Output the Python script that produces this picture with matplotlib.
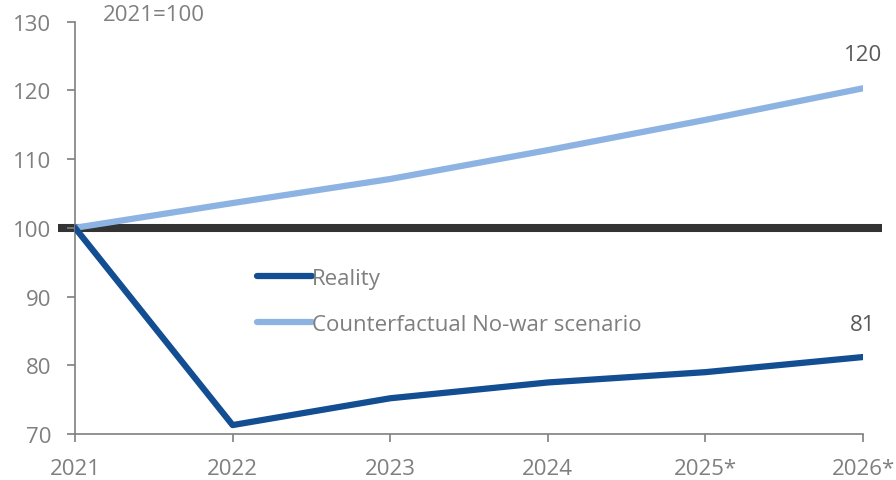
import numpy as np
import matplotlib.pyplot as plt

plt.rcParams['font.family'] = ['Open Sans', 'DejaVu Sans']

years = ['2021', '2022', '2023', '2024', '2025*', '2026*']
reality = [100, 71.3, 75.2, 77.5, 79.0, 81.2]
no_war = [100, 103.6, 107.1, 111.3, 115.7, 120.3]

x = np.arange(len(years))
grey = '#7f7f7f'

fig = plt.figure(figsize=(8.96, 4.81), dpi=100)
ax = fig.add_axes([0.0837, 0.0956, 0.8795, 0.8574])

# baseline at 100, sticks out past the axes a little
ax.plot([-0.11, 5.12], [100, 100], color='#333333', lw=5.8, clip_on=False, zorder=1,
        solid_capstyle='butt')
ax.plot(x, no_war, color='#8db3e2', lw=4.5, label='Counterfactual No-war scenario', zorder=2,
        solid_capstyle='round')
ax.plot(x, reality, color='#124e91', lw=4.5, label='Reality', zorder=3,
        solid_capstyle='round')

ax.set_xlim(0, 5)
ax.set_ylim(70, 130)
ax.set_yticks(np.arange(70, 131, 10))
ax.set_xticks(x)
ax.set_xticklabels(years)

for s in ['top', 'right']:
    ax.spines[s].set_visible(False)
for s in ['left', 'bottom']:
    ax.spines[s].set_color(grey)
    ax.spines[s].set_linewidth(1.2)
ax.tick_params(colors=grey, labelsize=16, length=6, width=1.2)
ax.tick_params(axis='x', pad=11)
ax.tick_params(axis='y', pad=11)

ax.text(0.18, 131, '2021=100', color=grey, fontsize=16, va='center')
# end labels
ax.text(x[-1], 125.2, '%d' % round(no_war[-1]), color='#595959', fontsize=16,
        ha='center', va='center')
ax.text(x[-1], 86.0, '%d' % round(reality[-1]), color='#595959', fontsize=16,
        ha='center', va='center')

h, l = ax.get_legend_handles_labels()
ax.legend(h[::-1], l[::-1], loc='upper left', bbox_to_anchor=(0.205, 0.452), frameon=False,
          fontsize=16, labelcolor=grey, handlelength=2.5, handletextpad=0.0,
          labelspacing=1.15)

fig.savefig('out.png', dpi=100)
